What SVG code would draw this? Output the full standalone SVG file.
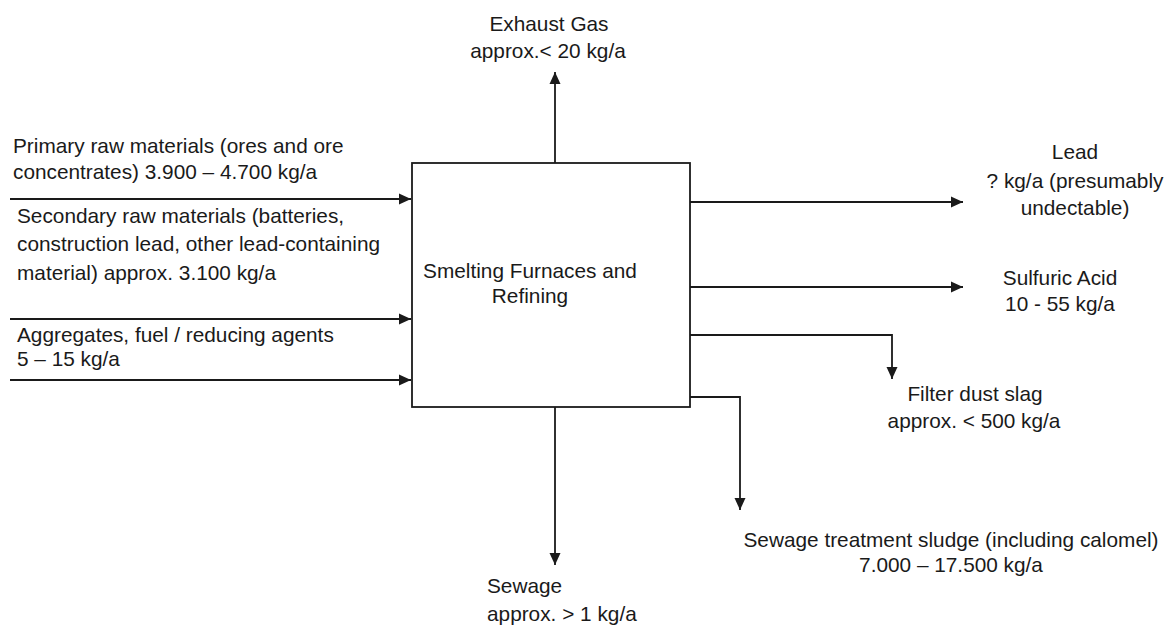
<svg xmlns="http://www.w3.org/2000/svg" width="1170" height="632" viewBox="0 0 1170 632">
<style>
text{font-family:"Liberation Sans",Arial,sans-serif;font-size:20.8px;fill:#1a1a1a}
.c{text-anchor:middle}
.ln{fill:none;stroke:#1a1a1a;stroke-width:1.8}
</style>
<defs>
<marker id="ah" viewBox="0 0 12 12" refX="12" refY="6" markerWidth="12" markerHeight="12" markerUnits="userSpaceOnUse" orient="auto">
<path d="M0,0.5 L12,6 L0,11.5 Z" fill="#1a1a1a"/>
</marker>
</defs>
<rect width="1170" height="632" fill="#fff"/>
<g id="connectors">
<path class="ln" d="M555,163 V72" marker-end="url(#ah)"/>
<path class="ln" d="M10,199 H411" marker-end="url(#ah)"/>
<path class="ln" d="M10,319 H411" marker-end="url(#ah)"/>
<path class="ln" d="M10,380 H411" marker-end="url(#ah)"/>
<path class="ln" d="M690,202 H963" marker-end="url(#ah)"/>
<path class="ln" d="M690,287 H963" marker-end="url(#ah)"/>
<path class="ln" d="M690,335 H892 V379" marker-end="url(#ah)"/>
<path class="ln" d="M690,397 H740 V510" marker-end="url(#ah)"/>
<path class="ln" d="M555,407 V565" marker-end="url(#ah)"/>
</g>
<g id="process">
<rect x="412" y="163" width="278" height="244" fill="#fff" stroke="#1a1a1a" stroke-width="1.8"/>
<text class="c" x="530" y="278">Smelting Furnaces and</text>
<text class="c" x="530" y="303">Refining</text>
</g>
<g id="exhaust">
<text class="c" x="549" y="31">Exhaust Gas</text>
<text class="c" x="548" y="58">approx.&lt; 20 kg/a</text>
</g>
<g id="primary">
<text x="13" y="153">Primary raw materials (ores and ore</text>
<text x="13" y="179">concentrates) 3.900 – 4.700 kg/a</text>
</g>
<g id="secondary">
<text x="17" y="223">Secondary raw materials (batteries,</text>
<text x="17" y="251">construction lead, other lead-containing</text>
<text x="17" y="280">material) approx. 3.100 kg/a</text>
</g>
<g id="aggregates">
<text x="17" y="342">Aggregates, fuel / reducing agents</text>
<text x="17" y="366">5 – 15 kg/a</text>
</g>
<g id="lead">
<text class="c" x="1075" y="159">Lead</text>
<text class="c" x="1075" y="188">? kg/a (presumably</text>
<text class="c" x="1075" y="215">undectable)</text>
</g>
<g id="sulfuric">
<text class="c" x="1060" y="285">Sulfuric Acid</text>
<text class="c" x="1060" y="311">10 - 55 kg/a</text>
</g>
<g id="filterdust">
<text class="c" x="975" y="401">Filter dust slag</text>
<text class="c" x="974" y="428">approx. &lt; 500 kg/a</text>
</g>
<g id="sludge">
<text class="c" x="951" y="547">Sewage treatment sludge (including calomel)</text>
<text class="c" x="951" y="572">7.000 – 17.500 kg/a</text>
</g>
<g id="sewage">
<text x="487" y="593">Sewage</text>
<text x="487" y="621">approx. &gt; 1 kg/a</text>
</g>
</svg>
